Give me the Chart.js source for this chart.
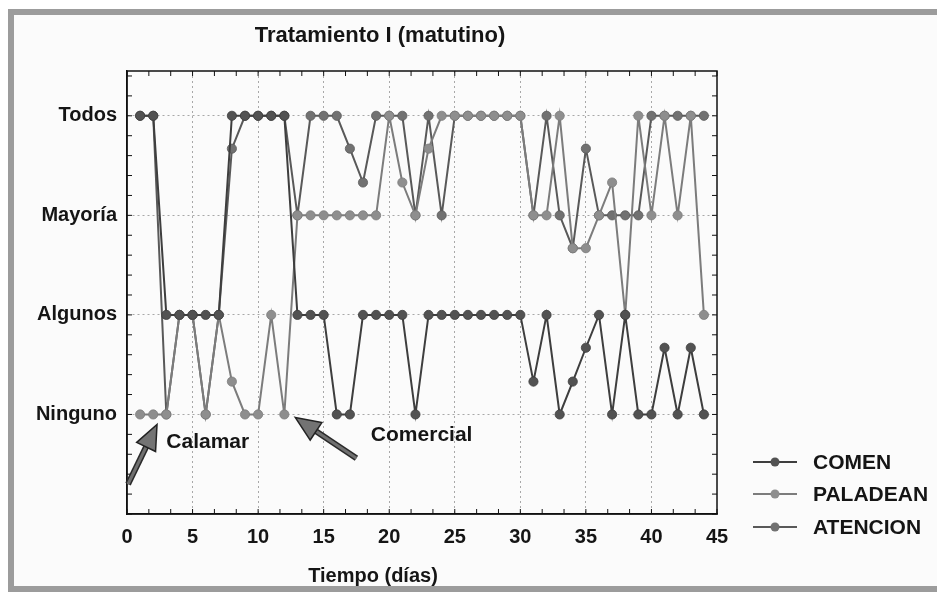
<!DOCTYPE html>
<html>
<head>
<meta charset="utf-8">
<title>Tratamiento I (matutino)</title>
<script src="https://cdn.jsdelivr.net/npm/chart.js@4.4.1/dist/chart.umd.min.js"></script>
<style>
  html, body { margin: 0; padding: 0; background: #fff; }
  #wrap { position: relative; width: 937px; height: 592px; overflow: hidden; }
  #frame { position: absolute; left: 8px; top: 9px; width: 940px; height: 571px;
           border: 6px solid #9c9c9c; background: #fbfbfb; }
  #chart { position: absolute; left: 0; top: 0; }
</style>
</head>
<body>
<div id="wrap">
  <div id="frame"></div>
  <canvas id="chart" width="937" height="592"></canvas>
</div>
<script>
// niveles de respuesta del grupo (0 = Ninguno ... 3 = Todos)
const levels = ['Ninguno', 'Algunos', 'Mayoría', 'Todos'];

const days = [1, 2, 3, 4, 5, 6, 7, 8, 9, 10, 11, 12, 13, 14, 15, 16, 17, 18, 19, 20, 21, 22,
              23, 24, 25, 26, 27, 28, 29, 30, 31, 32, 33, 34, 35, 36, 37, 38, 39, 40, 41, 42, 43, 44];

const comen = [3, 3, 1, 1, 1, 1, 1, 3, 3, 3,
               3, 3, 1, 1, 1, 0, 0, 1, 1, 1,
               1, 0, 1, 1, 1, 1, 1, 1, 1, 1,
               0.33, 1, 0, 0.33, 0.67, 1, 0, 1, 0, 0,
               0.67, 0, 0.67, 0];

const paladean = [0, 0, 0, 1, 1, 0, 1, 0.33, 0, 0,
                  1, 0, 2, 2, 2, 2, 2, 2, 2, 3,
                  2.33, 2, 2.67, 3, 3, 3, 3, 3, 3, 3,
                  2, 2, 3, 1.67, 1.67, 2, 2.33, 1, 3, 2,
                  3, 2, 3, 1];

const atencion = [3, 3, 0, 1, 1, 0, 1, 2.67, 3, 3,
                  3, 3, 2, 3, 3, 3, 2.67, 2.33, 3, 3,
                  3, 2, 3, 2, 3, 3, 3, 3, 3, 3,
                  2, 3, 2, 1.67, 2.67, 2, 2, 2, 2, 3,
                  3, 3, 3, 3];

const xTicks = [0, 5, 10, 15, 20, 25, 30, 35, 40, 45];

const seriesNames = ['COMEN', 'PALADEAN', 'ATENCION'];
const lineColors = ['#3e3e3e', '#7c7c7c', '#595959'];
const markColors = ['#525252', '#8e8e8e', '#717171'];

// flechas y rotulos en unidades de los ejes
const notes = [
  { text: 'Calamar',   tx: 3.0,  ty: -0.28, from: [0.08, -0.70], to: [2.29, -0.10] },
  { text: 'Comercial', tx: 18.6, ty: -0.21, from: [17.5, -0.44], to: [12.83, -0.03] }
];

const FONT = '"Liberation Sans", Arial, sans-serif';

function toPoints(values) {
  return days.map((d, i) => ({ x: d, y: values[i] }));
}

const datasets = [comen, paladean, atencion].map((vals, i) => ({
  label: seriesNames[i],
  data: toPoints(vals),
  borderColor: lineColors[i],
  backgroundColor: markColors[i],
  pointBackgroundColor: markColors[i],
  pointBorderColor: lineColors[i],
  borderWidth: 2,
  pointRadius: 4.6,
  pointBorderWidth: 0.8,
  tension: 0
}));

function drawArrow(ctx, x0, y0, x1, y1) {
  const ang = Math.atan2(y1 - y0, x1 - x0);
  const headLen = 25, headHalf = 10.5;
  const bx = x1 - Math.cos(ang) * headLen;
  const by = y1 - Math.sin(ang) * headLen;
  // cuerpo
  ctx.lineCap = 'butt';
  ctx.strokeStyle = '#2a2a2a';
  ctx.lineWidth = 6;
  ctx.beginPath(); ctx.moveTo(x0, y0); ctx.lineTo(bx, by); ctx.stroke();
  ctx.strokeStyle = '#707070';
  ctx.lineWidth = 3;
  ctx.beginPath(); ctx.moveTo(x0, y0); ctx.lineTo(bx, by); ctx.stroke();
  // punta
  const nx = -Math.sin(ang), ny = Math.cos(ang);
  ctx.beginPath();
  ctx.moveTo(x1, y1);
  ctx.lineTo(bx + nx * headHalf, by + ny * headHalf);
  ctx.lineTo(bx - nx * headHalf, by - ny * headHalf);
  ctx.closePath();
  ctx.fillStyle = '#737373';
  ctx.fill();
  ctx.strokeStyle = '#222';
  ctx.lineWidth = 1.5;
  ctx.stroke();
}

const extras = {
  id: 'extras',
  beforeDatasetsDraw(chart) {
    const { ctx, chartArea: a, scales: { x, y } } = chart;
    ctx.save();
    ctx.strokeStyle = '#111';
    ctx.lineWidth = 1.5;
    ctx.strokeRect(a.left, a.top, a.right - a.left, a.bottom - a.top);
    // marcas menores hacia dentro
    ctx.lineWidth = 1;
    for (let v = 0; v <= 45.01; v += 5 / 3) {
      const px = x.getPixelForValue(v);
      ctx.beginPath();
      ctx.moveTo(px, a.bottom); ctx.lineTo(px, a.bottom - 5);
      ctx.moveTo(px, a.top); ctx.lineTo(px, a.top + 5);
      ctx.stroke();
    }
    for (let v = -1; v <= 3.45; v += 0.2) {
      const py = y.getPixelForValue(v);
      ctx.beginPath();
      ctx.moveTo(a.left, py); ctx.lineTo(a.left + 5, py);
      ctx.moveTo(a.right, py); ctx.lineTo(a.right - 5, py);
      ctx.stroke();
    }
    ctx.restore();
  },
  afterDraw(chart) {
    const { ctx, scales: { x, y } } = chart;
    ctx.save();
    ctx.fillStyle = '#151515';
    ctx.textBaseline = 'middle';

    // titulo y eje x
    ctx.textAlign = 'center';
    ctx.font = 'bold 22px ' + FONT;
    ctx.fillText('Tratamiento I (matutino)', 380, 36);
    ctx.font = 'bold 20px ' + FONT;
    ctx.fillText('Tiempo (días)', 373, 576);

    // flechas con sus rotulos
    ctx.textAlign = 'left';
    ctx.font = 'bold 21px ' + FONT;
    notes.forEach(n => {
      drawArrow(ctx,
        x.getPixelForValue(n.from[0]), y.getPixelForValue(n.from[1]),
        x.getPixelForValue(n.to[0]), y.getPixelForValue(n.to[1]));
      ctx.fillStyle = '#151515';
      ctx.fillText(n.text, x.getPixelForValue(n.tx), y.getPixelForValue(n.ty));
    });

    // leyenda
    const lx = 753, rowY = [462, 494, 527];
    seriesNames.forEach((name, i) => {
      ctx.strokeStyle = lineColors[i];
      ctx.lineWidth = 2;
      ctx.beginPath(); ctx.moveTo(lx, rowY[i]); ctx.lineTo(lx + 44, rowY[i]); ctx.stroke();
      ctx.fillStyle = markColors[i];
      ctx.beginPath(); ctx.arc(lx + 22, rowY[i], 4.5, 0, Math.PI * 2); ctx.fill();
      ctx.fillStyle = '#151515';
      ctx.fillText(name, 813, rowY[i] + 1);
    });
    ctx.restore();
  }
};

new Chart(document.getElementById('chart'), {
  type: 'line',
  data: { datasets },
  options: {
    responsive: false,
    animation: false,
    layout: { padding: { top: 71, right: 220, left: 0, bottom: 0 } },
    plugins: {
      legend: { display: false },
      title: { display: false },
      tooltip: { enabled: false }
    },
    scales: {
      x: {
        type: 'linear',
        min: 0,
        max: 45,
        afterBuildTicks: s => { s.ticks = xTicks.map(v => ({ value: v })); },
        afterFit: s => { s.height = 78; },
        ticks: {
          color: '#151515',
          font: { family: FONT, size: 20, weight: 'bold' },
          padding: 11,
          maxRotation: 0
        },
        grid: {
          drawTicks: false,
          color: c => (c.tick && c.tick.value > 0 && c.tick.value < 45) ? '#a8a8a8' : 'transparent',
          lineWidth: 1
        },
        border: { display: true, color: '#111', width: 1.5, dash: [2, 3] }
      },
      y: {
        type: 'linear',
        min: -1,
        max: 3.45,
        afterBuildTicks: s => { s.ticks = levels.map((_, i) => ({ value: i })); },
        afterFit: s => { s.width = 127; },
        ticks: {
          color: '#151515',
          font: { family: FONT, size: 20, weight: 'bold' },
          padding: 10,
          callback: v => levels[v]
        },
        grid: {
          drawTicks: false,
          color: '#a8a8a8',
          lineWidth: 1
        },
        border: { display: true, color: '#111', width: 1.5, dash: [2, 3] }
      }
    }
  },
  plugins: [extras]
});
</script>
</body>
</html>
